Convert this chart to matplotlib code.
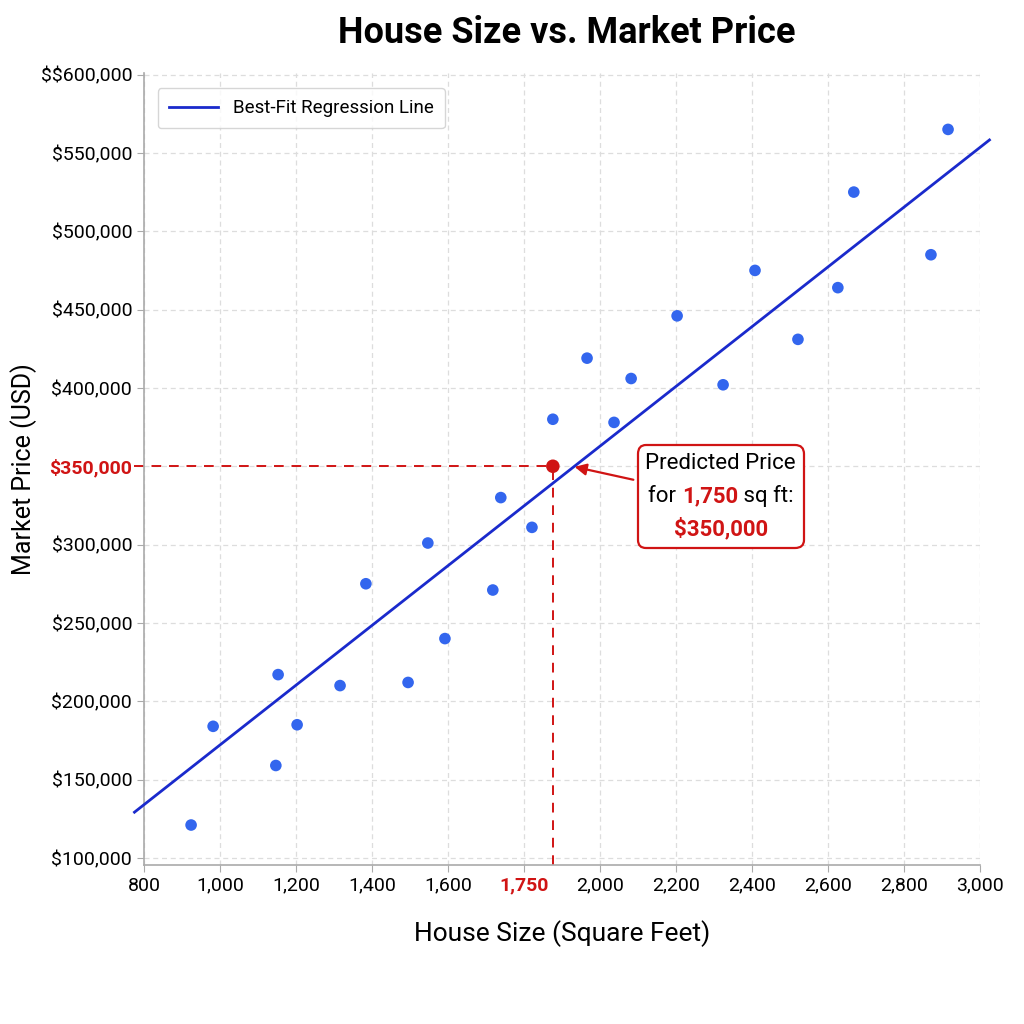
import matplotlib.pyplot as plt
from matplotlib.offsetbox import TextArea, HPacker, VPacker, AnnotationBbox

plt.rcParams['text.parse_math'] = False

# scatter data
sizes = [924, 982, 1147, 1153, 1203, 1316, 1384, 1495, 1547, 1592, 1718, 1739, 1821,
         1876, 1966, 2037, 2082, 2203, 2324, 2408, 2521, 2626, 2668, 2871, 2916]
prices = [121000, 184000, 159000, 217000, 185000, 210000, 275000, 212000, 301000, 240000,
          271000, 330000, 311000, 380000, 419000, 378000, 406000, 446000, 402000, 475000,
          431000, 464000, 525000, 485000, 565000]

slope = 190.7
intercept = -18600
line_x = [775, 3025]

pred_x = 1876
pred_y = 350000

x_ticks = [800, 1000, 1200, 1400, 1600, 1800, 2000, 2200, 2400, 2600, 2800, 3000]
x_labels = ['800', '1,000', '1,200', '1,400', '1,600', '1,750', '2,000', '2,200',
            '2,400', '2,600', '2,800', '3,000']
y_ticks = [100000, 150000, 200000, 250000, 300000, 350000, 400000, 450000, 500000,
           550000, 600000]

RED = '#d01414'
BLUE_PT = '#3366ee'
BLUE_LN = '#1a2acc'
SANS = ['Roboto', 'DejaVu Sans']

fig = plt.figure(figsize=(10.24, 10.24), dpi=100)
ax = fig.add_axes([0.1406, 0.1553, 0.8164, 0.7734])

ax.grid(True, color='#dddddd', linestyle=(0, (4, 3)), linewidth=0.9)
ax.set_axisbelow(True)

ax.scatter(sizes, prices, s=70, color=BLUE_PT, zorder=3, edgecolors='none')

fit_y = [slope * v + intercept for v in line_x]
ax.plot(line_x, fit_y, color=BLUE_LN, linewidth=2, zorder=4, clip_on=False,
        label='Best-Fit Regression Line')

# guide lines to the predicted point
ax.plot([775, pred_x], [pred_y, pred_y], color=RED, linestyle=(0, (5, 4)),
        linewidth=1.4, zorder=2, clip_on=False)
ax.plot([pred_x, pred_x], [95500, pred_y], color=RED, linestyle=(0, (5, 4)),
        linewidth=1.4, zorder=2)
ax.scatter([pred_x], [pred_y], s=95, color=RED, zorder=5, edgecolors='none')

ax.set_xlim(800, 3000)
ax.set_ylim(95500, 601000)
ax.set_xticks(x_ticks)
ax.set_xticklabels(x_labels)
ax.set_yticks(y_ticks)
ylabs = ['$' + format(v, ',') for v in y_ticks]
ylabs[-1] = '$$600,000'
ax.set_yticklabels(ylabs)

for lab in ax.get_xticklabels() + ax.get_yticklabels():
    lab.set_family(SANS)
    lab.set_fontsize(14)
xl = ax.get_xticklabels()[5]
xl.set_color(RED)
xl.set_fontweight('bold')
yl = ax.get_yticklabels()[5]
yl.set_color(RED)
yl.set_fontweight('bold')

for sp in ['top', 'right']:
    ax.spines[sp].set_visible(False)
for sp in ['left', 'bottom']:
    ax.spines[sp].set_color('#aaaaaa')
    ax.spines[sp].set_linewidth(1.2)
ax.tick_params(color='#aaaaaa', length=5)

ax.set_xlabel('House Size (Square Feet)', fontsize=19, family=SANS, labelpad=18)
ax.set_ylabel('Market Price (USD)', fontsize=18, family=SANS)
ax.yaxis.set_label_coords(-0.128, 0.5)
fig.text(0.553, 0.968, 'House Size vs. Market Price', fontsize=26, fontweight='bold',
         family=SANS, ha='center', va='center')

leg = ax.legend(loc='upper left', fontsize=13.5, frameon=True, fancybox=True,
                borderpad=0.6, handlelength=2.6, bbox_to_anchor=(0.005, 0.993))
leg.get_frame().set_edgecolor('#cccccc')
for t in leg.get_texts():
    t.set_family(SANS)

# annotation box with mixed colours
tp = dict(fontsize=16, family=SANS)
row1 = TextArea('Predicted Price', textprops=dict(color='black', **tp))
row2 = HPacker(children=[
    TextArea('for ', textprops=dict(color='black', **tp)),
    TextArea('1,750', textprops=dict(color=RED, fontweight='bold', **tp)),
    TextArea(' sq ft:', textprops=dict(color='black', **tp)),
], align='baseline', pad=0, sep=0)
row3 = TextArea('$350,000', textprops=dict(color=RED, fontweight='bold', **tp))
box = VPacker(children=[row1, row2, row3], align='center', pad=0, sep=8)
ab = AnnotationBbox(box, (2318, 330500), xycoords='data', frameon=True,
                    box_alignment=(0.5, 0.5), pad=0.7,
                    bboxprops=dict(boxstyle='round,pad=0.55,rounding_size=0.6',
                                   ec=RED, fc='white', lw=1.6))
ax.add_artist(ab)

ax.annotate('', xy=(pred_x + 50, pred_y), xytext=(2095, 341000),
            arrowprops=dict(arrowstyle='-|>,head_length=0.7,head_width=0.35',
                            color=RED, lw=1.6), zorder=6)

fig.savefig('out.png', dpi=100)
